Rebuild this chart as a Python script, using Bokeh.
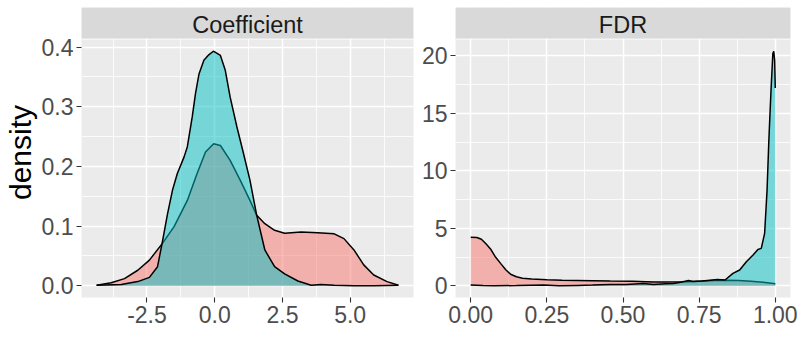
from bokeh.plotting import figure
from bokeh.models import Range1d, FixedTicker, Label, NumeralTickFormatter
from bokeh.layouts import row
from bokeh.embed import file_html
from bokeh.resources import INLINE

FONT = "Liberation Sans"
RED = "#F8766D"
CYAN = "#00BFC4"

panel_titles = ["Coefficient", "FDR"]

# ---- Coefficient panel: density curves (group 1 = red, group 2 = cyan) ----
coef_x_red = [-4.36, -3.82, -3.33, -2.84, -2.41, -1.93, -1.50, -1.01, -0.65, -0.34,
              -0.04, 0.21, 0.57, 0.94, 1.30, 1.55, 1.85, 2.21, 2.58, 3.19,
              3.80, 4.41, 4.77, 5.14, 5.50, 5.87, 6.36, 6.78]
coef_y_red = [0.001, 0.005, 0.012, 0.026, 0.043, 0.071, 0.099, 0.143, 0.188, 0.224,
              0.238, 0.235, 0.210, 0.177, 0.143, 0.118, 0.104, 0.093, 0.088, 0.090,
              0.089, 0.087, 0.079, 0.060, 0.035, 0.018, 0.007, 0.001]

coef_x_cyan = [-4.36, -3.45, -2.84, -2.41, -2.11, -1.93, -1.74, -1.56, -1.38, -1.13,
               -1.01, -0.83, -0.71, -0.58, -0.40, -0.22, -0.05, 0.21, 0.39, 0.57,
               0.82, 1.06, 1.30, 1.55, 1.85, 2.21, 2.58, 3.07, 3.56, 3.92,
               4.41, 5.14, 5.87, 6.78]
coef_y_cyan = [0.001, 0.002, 0.007, 0.014, 0.032, 0.074, 0.121, 0.160, 0.188, 0.216,
               0.233, 0.283, 0.322, 0.355, 0.378, 0.387, 0.393, 0.386, 0.361, 0.316,
               0.266, 0.222, 0.177, 0.118, 0.060, 0.032, 0.020, 0.008, 0.001, 0.002,
               0.001, 0.000, 0.000, 0.001]

# ---- FDR panel ----
fdr_x_red = [0.000, 0.020, 0.035, 0.050, 0.065, 0.080, 0.098, 0.115, 0.131, 0.150,
             0.170, 0.200, 0.250, 0.300, 0.400, 0.458, 0.530, 0.600, 0.640, 0.710,
             0.750, 0.800, 0.840, 0.880, 0.920, 0.960, 1.000]
fdr_y_red = [4.21, 4.20, 4.05, 3.65, 3.20, 2.55, 1.95, 1.40, 1.00, 0.78,
             0.66, 0.58, 0.52, 0.48, 0.44, 0.41, 0.40, 0.33, 0.33, 0.35,
             0.40, 0.45, 0.48, 0.45, 0.40, 0.30, 0.18]

fdr_x_cyan = [0.000, 0.040, 0.076, 0.150, 0.240, 0.290, 0.350, 0.400, 0.458, 0.510,
              0.567, 0.600, 0.640, 0.665, 0.690, 0.715, 0.730, 0.760, 0.810, 0.835,
              0.861, 0.883, 0.905, 0.927, 0.943, 0.954, 0.965, 0.973, 0.979, 0.986,
              0.992, 0.995, 0.998, 1.000]
fdr_y_cyan = [0.06, 0.02, 0.00, 0.02, 0.06, 0.00, 0.03, 0.06, 0.12, 0.12,
              0.20, 0.12, 0.18, 0.20, 0.30, 0.45, 0.38, 0.42, 0.55, 0.50,
              1.08, 1.37, 2.09, 2.67, 3.16, 3.25, 4.55, 8.30, 12.70, 17.00,
              20.20, 20.40, 19.60, 17.20]

# ---- ticks ----
coef_xticks = [-2.5, 0.0, 2.5, 5.0]
coef_xlabels = ["-2.5", "0.0", "2.5", "5.0"]
coef_xminor = [-3.75, -1.25, 1.25, 3.75, 6.25]
coef_yticks = [0.0, 0.1, 0.2, 0.3, 0.4]
coef_ylabels = ["0.0", "0.1", "0.2", "0.3", "0.4"]
coef_yminor = [0.05, 0.15, 0.25, 0.35]

fdr_xticks = [0.0, 0.25, 0.5, 0.75, 1.0]
fdr_xlabels = ["0.00", "0.25", "0.50", "0.75", "1.00"]
fdr_xminor = [0.125, 0.375, 0.625, 0.875]
fdr_yticks = [0, 5, 10, 15, 20]
fdr_ylabels = ["0", "5", "10", "15", "20"]
fdr_yminor = [2.5, 7.5, 12.5, 17.5]

# layout (pixels)
FIG_H = 364
BORDER_TOP = 7
BORDER_BOTTOM = 67
STRIP_PX = 31
GAP_PX = 1


def expand(lo, hi, f=0.05):
    d = hi - lo
    return lo - f * d, hi + f * d


def make_panel(title, xr, yr, xc, yc, xticks, xlabels, xminor, yticks, ylabels, yminor,
               xfmt, yfmt, width, bl, br, ylabel=None):
    xlo, xhi = expand(min(min(xr), min(xc)), max(max(xr), max(xc)))
    ylo, yhi = expand(0, max(max(yr), max(yc)))
    frame_h = FIG_H - BORDER_TOP - BORDER_BOTTOM
    panel_h = frame_h - STRIP_PX - GAP_PX
    k = (yhi - ylo) / panel_h  # data units per pixel
    ytop = yhi + (STRIP_PX + GAP_PX) * k

    p = figure(width=width, height=FIG_H, output_backend="svg", toolbar_location=None,
               x_range=Range1d(xlo, xhi), y_range=Range1d(ylo, ytop),
               min_border_left=bl, min_border_right=br,
               min_border_top=BORDER_TOP, min_border_bottom=BORDER_BOTTOM)
    p.background_fill_color = "#EBEBEB"
    p.border_fill_color = "white"
    p.outline_line_color = None

    p.varea(x=xr, y1=[0] * len(xr), y2=yr, fill_color=RED, fill_alpha=0.5)
    p.line(x=xr, y=yr, line_color="black", line_width=1.5)
    p.varea(x=xc, y1=[0] * len(xc), y2=yc, fill_color=CYAN, fill_alpha=0.5)
    p.line(x=xc, y=yc, line_color="black", line_width=1.5)

    # facet strip (gap + grey band) on top of the panel
    p.quad(left=[xlo], right=[xhi], bottom=[yhi], top=[yhi + GAP_PX * k],
           fill_color="white", line_color=None)
    p.quad(left=[xlo], right=[xhi], bottom=[yhi + GAP_PX * k], top=[ytop],
           fill_color="#D9D9D9", line_color=None)
    p.add_layout(Label(x=(xlo + xhi) / 2, y=yhi + (GAP_PX + STRIP_PX * 0.45) * k, text=title,
                       text_align="center", text_baseline="middle",
                       text_font=FONT, text_font_size="23.5px", text_color="#1A1A1A"))

    p.xaxis.ticker = FixedTicker(ticks=xticks, minor_ticks=xminor)
    p.yaxis.ticker = FixedTicker(ticks=yticks, minor_ticks=yminor)
    p.xaxis.formatter = NumeralTickFormatter(format=xfmt)
    p.yaxis.formatter = NumeralTickFormatter(format=yfmt)
    p.xaxis.major_label_overrides = dict(zip(xticks, xlabels))
    p.yaxis.major_label_overrides = dict(zip(yticks, ylabels))

    for ax in (p.xaxis, p.yaxis):
        ax.axis_line_color = None
        ax.major_tick_line_color = "#333333"
        ax.major_tick_line_width = 1.1
        ax.major_tick_out = 5
        ax.major_tick_in = 0
        ax.minor_tick_line_color = None
        ax.major_label_text_font = FONT
        ax.major_label_text_font_size = "23px"
        ax.major_label_text_color = "#4D4D4D"
        ax.major_label_standoff = 3

    for g in (p.xgrid, p.ygrid):
        g.grid_line_color = "white"
        g.grid_line_width = 1.5
        g.minor_grid_line_color = "white"
        g.minor_grid_line_width = 0.8

    if ylabel:
        p.yaxis.axis_label = ylabel
        p.yaxis.axis_label_text_font = FONT
        p.yaxis.axis_label_text_font_size = "30px"
        p.yaxis.axis_label_text_font_style = "normal"
        p.yaxis.axis_label_text_color = "black"
        p.yaxis.axis_label_standoff = 2
    return p


p1 = make_panel(panel_titles[0], coef_x_red, coef_y_red, coef_x_cyan, coef_y_cyan,
                coef_xticks, coef_xlabels, coef_xminor, coef_yticks, coef_ylabels, coef_yminor,
                "0.0", "0.0", 418, 78, 5, ylabel="density")
p2 = make_panel(panel_titles[1], fdr_x_red, fdr_y_red, fdr_x_cyan, fdr_y_cyan,
                fdr_xticks, fdr_xlabels, fdr_xminor, fdr_yticks, fdr_ylabels, fdr_yminor,
                "0.00", "0", 380, 37, 8)

layout = row(p1, p2)

with open("out.html", "w") as f:
    f.write(file_html(layout, INLINE))
